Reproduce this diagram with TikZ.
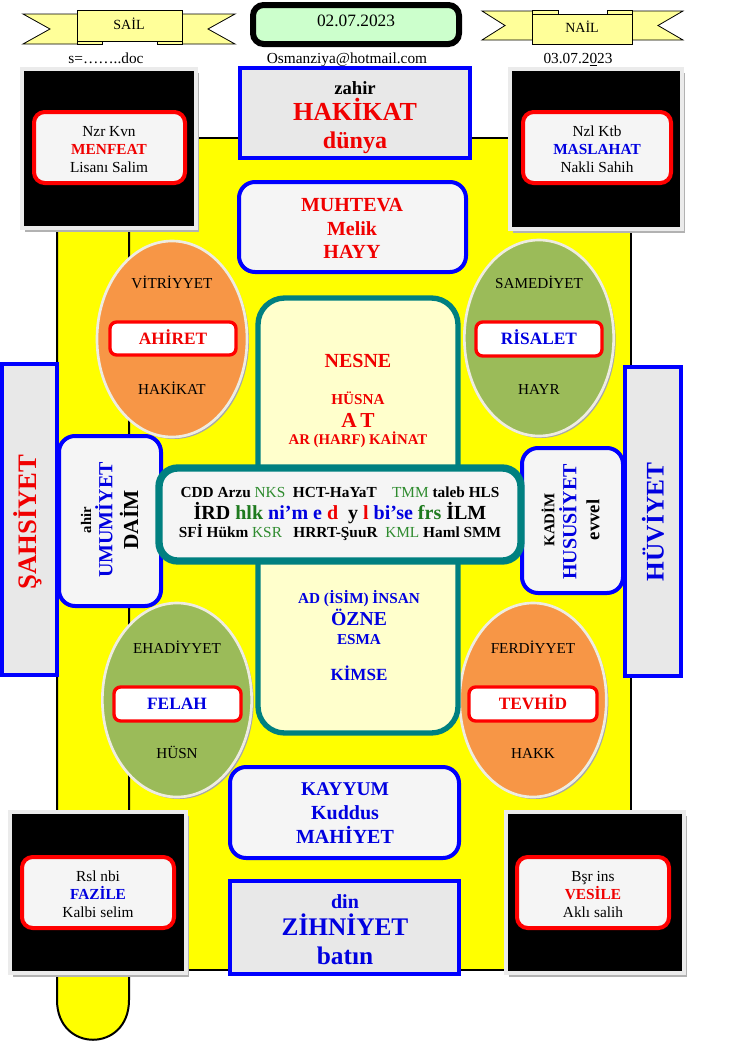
\documentclass[tikz,border=0pt]{standalone}
\usepackage{fontspec}
\setmainfont{Liberation Serif}
\definecolor{yel}{HTML}{FFFF00}
\definecolor{rib}{HTML}{FFFF99}
\definecolor{mint}{HTML}{CCFFCC}
\definecolor{bblue}{HTML}{0000FF}
\definecolor{tblue}{HTML}{0000E0}
\definecolor{tred}{HTML}{F00000}
\definecolor{teal2}{HTML}{008080}
\definecolor{paleY}{HTML}{FFFFCC}
\definecolor{boxw}{HTML}{F5F5F5}
\definecolor{boxg}{HTML}{E8E8E8}
\definecolor{orng}{HTML}{F79646}
\definecolor{olive2}{HTML}{9BBB59}
\definecolor{ellb}{HTML}{EEECE1}
\definecolor{gtxt}{HTML}{2E8B2E}
\definecolor{gtxtb}{HTML}{1E7A1E}
\begin{document}
\begin{tikzpicture}[x=0.75pt,y=-0.75pt,
  tx/.style={font=\fontsize{#1}{#1}\selectfont, anchor=base, yshift={-0.33*#1pt}, inner sep=0pt},
  tb/.style={font=\fontsize{#1}{#1}\selectfont\bfseries, anchor=base, yshift={-0.33*#1pt}, inner sep=0pt},
  rt/.style={font=\fontsize{#1}{#1}\selectfont\bfseries, rotate=90, inner sep=0pt, anchor=center},
  ribbon/.style={fill=rib, draw=black, line width=0.6pt},
  yelshape/.style={fill=yel, draw=black, line width=1.5pt},
  blackbox/.style={fill=black, draw=black!8, line width=2.5pt},
  bshadow/.style={fill=black!30},
  redbox/.style={fill=boxw, draw=red, line width=3pt, rounded corners=8pt},
  smallred/.style={fill=white, draw=red, line width=2.5pt, rounded corners=5pt},
  bluebox/.style={fill=boxw, draw=bblue, line width=3pt, rounded corners=12pt},
  bluebar/.style={fill=boxg, draw=bblue, line width=3pt},
  tealbox/.style={draw=teal2, line width=4pt, rounded corners=20pt},
  ell/.style={draw=ellb, line width=2pt},
  eshadow/.style={fill=black!35},
]
\useasboundingbox (0,0) rectangle (753,1042);
\fill[white] (0,0) rectangle (753,1042);

% yellow background shapes
\filldraw[yelshape] (129,138) rectangle (631,970);
\filldraw[yelshape] (57,200) -- (57,1000) .. controls (57,1053) and (129,1053) .. (129,1000) -- (129,200) -- cycle;

% SAIL ribbon
\filldraw[ribbon] (23,14) -- (80,14) -- (80,44) -- (23,44) -- (50,29) -- cycle;
\filldraw[ribbon] (235,14) -- (179,14) -- (179,44) -- (235,44) -- (208,29) -- cycle;
\filldraw[ribbon] (77,38) rectangle (102,44);
\filldraw[ribbon] (157,38) rectangle (182,44);
\filldraw[ribbon] (77,10) rectangle (182,41);
\node[tx=10.5] (sail) at (129,25) {SAİL};

% NAIL ribbon
\filldraw[ribbon] (482,11) -- (535,11) -- (535,40) -- (482,40) -- (505,25.5) -- cycle;
\filldraw[ribbon] (683,11) -- (629,11) -- (629,40) -- (683,40) -- (658,25.5) -- cycle;
\filldraw[ribbon] (532,10) rectangle (558,16);
\filldraw[ribbon] (607,10) rectangle (632,16);
\filldraw[ribbon] (532,14) rectangle (632,44);
\node[tx=10.5] (nail) at (582,28) {NAİL};

% date box
\filldraw[draw=black, line width=4.5pt, fill=mint, rounded corners=8pt] (253,5) rectangle (459,44);
\node[tx=13] (date) at (356,21) {02.07.2023};

% header texts
\node[tx=11.5] (doc) at (106,58) {s=……..doc};
\node[tx=11.5] (mail) at (347,58) {Osmanziya@hotmail.com};
\node[tx=11.5] (date2) at (578,58) {03.07.2\underline{0}23};

% black boxes
\fill[bshadow] (25,73) rectangle (199,232);
\filldraw[blackbox] (22,69) rectangle (196,228);
\fill[bshadow] (513,73) rectangle (685,233);
\filldraw[blackbox] (510,69) rectangle (682,229);
\fill[bshadow] (13,816) rectangle (189,977);
\filldraw[blackbox] (10,812) rectangle (186,973);
\fill[bshadow] (509,816) rectangle (687,977);
\filldraw[blackbox] (506,812) rectangle (684,973);

\filldraw[redbox] (34,112) rectangle (185,183);
\node[tx=11.5] (tl1) at (109,131) {Nzr Kvn};
\node[tb=11.5, text=tred] (tl2) at (109,149) {MENFEAT};
\node[tx=11.5] (tl3) at (109,167) {Lisanı Salim};

\filldraw[redbox] (523,112) rectangle (671,183);
\node[tx=11.5] (tr1) at (597,131) {Nzl Ktb};
\node[tb=11.5, text=tblue] (tr2) at (597,149) {MASLAHAT};
\node[tx=11.5] (tr3) at (597,167) {Nakli Sahih};

\filldraw[redbox] (22,857) rectangle (174,928);
\node[tx=11.5] (bl1) at (98,876) {Rsl nbi};
\node[tb=11.5, text=tblue] (bl2) at (98,894) {FAZİLE};
\node[tx=11.5] (bl3) at (98,912) {Kalbi selim};

\filldraw[redbox] (517,857) rectangle (669,928);
\node[tx=11.5] (br1) at (593,876) {Bşr ins};
\node[tb=11.5, text=tred] (br2) at (593,894) {VESİLE};
\node[tx=11.5] (br3) at (593,912) {Aklı salih};

% zahir box
\filldraw[bluebar] (240,68) rectangle (470,158);
\node[tb=14] (zahir) at (355,88) {zahir};
\node[tb=19.5, text=tred] (hakikat) at (355,112) {HAKİKAT};
\node[tb=18, text=tred] (dunya) at (355,141) {dünya};

% muhteva box
\filldraw[bluebox] (239,182) rectangle (466,272);
\node[tb=15, text=tred] (muh) at (352,205) {MUHTEVA};
\node[tb=15, text=tred] (melik) at (352,229) {Melik};
\node[tb=15, text=tred] (hayy) at (352,252) {HAYY};

% ellipses
\fill[eshadow] (174,341) ellipse [x radius=56.25pt, y radius=73.5pt];
\filldraw[ell, fill=orng] (172,339) ellipse [x radius=56.25pt, y radius=73.5pt];
\fill[eshadow] (541,340) ellipse [x radius=56pt, y radius=73.5pt];
\filldraw[ell, fill=olive2] (539,338) ellipse [x radius=56pt, y radius=73.5pt];
\fill[eshadow] (179,702) ellipse [x radius=56pt, y radius=72.75pt];
\filldraw[ell, fill=olive2] (177,700) ellipse [x radius=56pt, y radius=72.75pt];
\fill[eshadow] (535,702) ellipse [x radius=55pt, y radius=72.75pt];
\filldraw[ell, fill=orng] (533,700) ellipse [x radius=55pt, y radius=72.75pt];

\node[tx=11.4] (vit) at (172,283) {VİTRİYYET};
\filldraw[smallred] (110,322) rectangle (236,355);
\node[tb=13, text=tred] (ahiret) at (173,339) {AHİRET};
\node[tx=11.4] (hak1) at (172,389) {HAKİKAT};

\node[tx=11.4] (sam) at (539,283) {SAMEDİYET};
\filldraw[smallred] (476,322) rectangle (602,356);
\node[tb=13, text=tblue] (ris) at (539,339) {RİSALET};
\node[tx=11.4] (hayr) at (539,389) {HAYR};

\node[tx=11.4] (ehad) at (177,648) {EHADİYYET};
\filldraw[smallred] (114,687) rectangle (241,721);
\node[tb=13, text=tblue] (felah) at (177,704) {FELAH};
\node[tx=11.4] (husn) at (177,753) {HÜSN};

\node[tx=11.4] (ferd) at (533,648) {FERDİYYET};
\filldraw[smallred] (469,687) rectangle (597,721);
\node[tb=13, text=tred] (tevhid) at (533,704) {TEVHİD};
\node[tx=11.4] (hakk) at (533,753) {HAKK};

% tall center box
\filldraw[tealbox, fill=paleY] (258,298) rectangle (458,733);
\node[tb=15, text=tred] (nesne) at (358,361) {NESNE};
\node[tb=11.4, text=tred] (husna) at (358,399) {HÜSNA};
\node[tb=16, text=tred] (at) at (358,420) {A\,T};
\node[tb=11.1, text=tred] (ar) at (358,440) {AR (HARF) KAİNAT};
\node[tb=11.4, text=tblue] (ad) at (359,598) {AD (İSİM) İNSAN};
\node[tb=14.8, text=tblue] (ozne) at (359,619) {ÖZNE};
\node[tb=11.4, text=tblue] (esma) at (359,639) {ESMA};
\node[tb=12.8, text=tblue] (kimse) at (359,675) {KİMSE};

% side bars
\filldraw[bluebar] (2,364) rectangle (57,675);
\node[rt=20, text=tred] (sahs) at (28,522) {ŞAHSİYET};
\filldraw[bluebar] (625,367) rectangle (681,676);
\node[rt=19, text=tblue] (huv) at (653,522) {HÜVİYET};

% side boxes
\filldraw[bluebox] (59,436) rectangle (161,606);
\node[rt=11] (ahir) at (86,520) {ahir};
\node[rt=15, text=tblue] (umum) at (104,520) {UMUMİYET};
\node[rt=16] (daim) at (129,520) {DAİM};

\filldraw[bluebox] (522,448) rectangle (623,593);
\node[rt=11.2] (kadim) at (548,520) {KADİM};
\node[rt=15, text=tblue] (husus) at (568,522) {HUSUSİYET};
\node[rt=14] (evvel) at (593,520) {evvel};

% center horizontal box
\filldraw[tealbox, fill=boxw, line width=5.5pt, rounded corners=14pt] (159,468) rectangle (521,561);
\node[tb=11.5] (l1) at (340,492) {CDD Arzu {\mdseries\color{gtxt}NKS}\ \ HCT-HaYaT\ \ \ \ {\mdseries\color{gtxt}TMM} taleb HLS};
\node[tb=15] (l2) at (340,513) {İRD {\color{gtxtb}hlk} {\color{tblue}ni’m e} {\color{tred}d}\ \ y {\color{tred}l} {\color{tblue}bi’se} {\color{gtxtb}frs} İLM};
\node[tb=11.5] (l3) at (340,532) {SFİ Hükm {\mdseries\color{gtxt}KSR}\ \ \ HRRT-ŞuuR\ \ {\mdseries\color{gtxt}KML} Haml SMM};

% kayyum box
\filldraw[bluebox] (230,767) rectangle (459,858);
\node[tb=14.6, text=tblue] (kay) at (345,789) {KAYYUM};
\node[tb=15, text=tblue] (kud) at (345,813) {Kuddus};
\node[tb=15, text=tblue] (mah) at (345,837) {MAHİYET};

% zihniyet box
\filldraw[bluebar] (230,881) rectangle (459,974);
\node[tb=15, text=tblue] (din) at (345,902) {din};
\node[tb=19, text=tblue] (zih) at (345,927) {ZİHNİYET};
\node[tb=19, text=tblue] (batin) at (345,956) {batın};
\end{tikzpicture}
\end{document}
